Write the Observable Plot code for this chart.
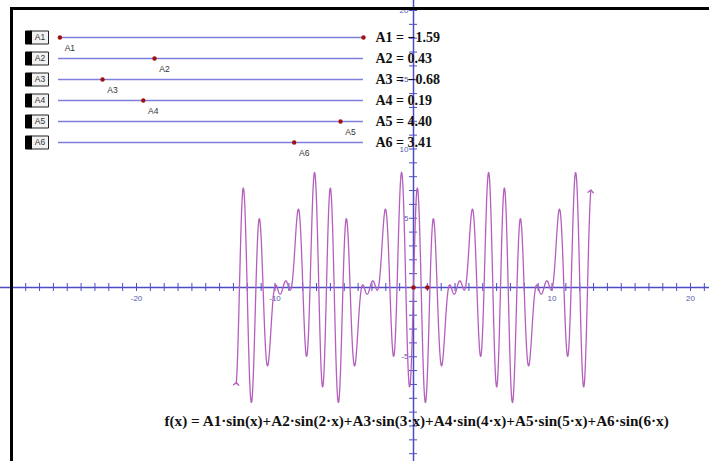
<!DOCTYPE html>
<html><head><meta charset="utf-8">
<script src="https://cdn.jsdelivr.net/npm/d3@7"></script>
<script src="https://cdn.jsdelivr.net/npm/@observablehq/plot@0.6"></script>
<style>
html,body{margin:0;padding:0;background:#fff;}
#wrap{position:relative;width:709px;height:461px;overflow:hidden;background:#fff;}
#wrap > svg{position:absolute;left:0;top:0;}
#frame{position:absolute;left:10px;top:7px;width:699px;height:454px;border-top:3px solid #000;border-left:3px solid #000;box-sizing:border-box;pointer-events:none;}
</style></head><body><div id="wrap"></div>
<script>
// ---- data ----
const sliderNames = ["A1", "A2", "A3", "A4", "A5", "A6"];
const sliderValues = [-1.59, 0.43, -0.68, 0.19, 4.40, 3.41];
const sliderRange = [-1.62, 4.89];
const harmonics = [1, 2, 3, 4, 5, 6];
const curveDomain = [-12.8, 12.8];
const xTickLabels = [-20, -10, 10, 20];
const yTickLabels = [-5, 5, 10, 15, 20];
const formula = "f(x) = A1·sin(x)+A2·sin(2·x)+A3·sin(3·x)+A4·sin(4·x)+A5·sin(5·x)+A6·sin(6·x)";

// ---- layout / style ----
const W = 709, H = 461, unit = 13.85, ox = 413, oy = 287;
const axisColor = "#4d4dc4", labelColor = "#5a5aa8", curveColor = "#b45fbe", pointColor = "#a01010";
const serif = "'Liberation Serif','Times New Roman',serif";
const sans = "'Liberation Sans',Arial,sans-serif";
const tl = 4 / unit;

const sliders = sliderNames.map((name, i) => ({name, value: sliderValues[i]}));
const f = x => d3.sum(harmonics, (k, i) => sliderValues[i] * Math.sin(k * x));
const curve = d3.range(curveDomain[0], curveDomain[1] + 1e-9, 0.01).map(x => ({x, y: f(x)}));
const xDom = [-ox / unit, (W - ox) / unit];
const yDom = [-(H - oy) / unit, oy / unit];
const xTicks = d3.range(Math.ceil(xDom[0]), Math.floor(xDom[1]) + 1);
const yTicks = d3.range(Math.ceil(yDom[0]), Math.floor(yDom[1]) + 1);

const main = Plot.plot({
  width: W, height: H, margin: 0,
  x: {domain: xDom, range: [0, W], axis: null},
  y: {domain: yDom, range: [H, 0], axis: null},
  style: {background: "transparent", overflow: "visible"},
  marks: [
    Plot.ruleY([0], {stroke: axisColor, strokeWidth: 1.5}),
    Plot.ruleX([0], {stroke: axisColor, strokeWidth: 1.5}),
    Plot.ruleX(xTicks, {x: d => d, y1: -tl, y2: tl, stroke: axisColor, strokeWidth: 1}),
    Plot.ruleY(yTicks, {y: d => d, x1: -tl, x2: tl, stroke: axisColor, strokeWidth: 1}),
    Plot.text(xTickLabels, {x: d => d, y: 0, dy: 11, text: d => String(d), fill: labelColor, fontSize: 8, fontFamily: sans}),
    Plot.text(yTickLabels, {x: 0, y: d => d, dx: -5, textAnchor: "end", text: d => String(d), fill: labelColor, fontSize: 8, fontFamily: sans}),
    Plot.line(curve, {x: "x", y: "y", stroke: curveColor, strokeWidth: 1.3, markerStart: "arrow", markerEnd: "arrow"}),
    Plot.dot([0, 1], {x: d => d, y: 0, r: 2.3, fill: pointColor}),
    Plot.text([formula], {frameAnchor: "bottom-left", dx: 164, dy: -36, textAnchor: "start", text: d => d,
      fontFamily: serif, fontWeight: "bold", fontSize: 15.2, fill: "#111"})
  ]
});

const leftBlock = {draw(ctx) { ctx.rect(-3, -6.5, 6, 13); }};
const box = {draw(ctx) { ctx.rect(-9, -6.5, 18, 13); }};
const fmt = d3.format(".2f");

const sl = Plot.plot({
  width: W, height: 170, margin: 0,
  x: {domain: sliderRange, range: [58, 363], axis: null},
  y: {type: "point", domain: sliderNames, range: [35, 143], padding: 0, axis: null},
  style: {background: "transparent", overflow: "visible"},
  marks: [
    Plot.ruleY(sliders, {y: "name", x1: () => sliderRange[0], x2: () => sliderRange[1], stroke: "#7f7fdc", strokeWidth: 1.3}),
    Plot.dot(sliders.slice(0, 1), {x: () => sliderRange[1], y: "name", r: 2.2, fill: pointColor}),
    Plot.dot(sliders, {x: "value", y: "name", r: 2.2, fill: pointColor}),
    Plot.text(sliders, {x: "value", y: "name", dx: 10, dy: 11, text: "name", fill: "#333", fontSize: 8.5, fontFamily: sans}),
    Plot.dot(sliders, {y: "name", frameAnchor: "left", dx: 39, symbol: box, fill: "#f2f2f2", stroke: "#222", strokeWidth: 1}),
    Plot.dot(sliders, {y: "name", frameAnchor: "left", dx: 28, symbol: leftBlock, fill: "#000", stroke: "#000", strokeWidth: 1}),
    Plot.text(sliders, {y: "name", frameAnchor: "left", dx: 39.5, textAnchor: "middle", text: "name", fill: "#333", fontSize: 8.5, fontFamily: sans}),
    Plot.text(sliders, {y: "name", frameAnchor: "left", dx: 375, textAnchor: "start", text: d => `${d.name} = ${fmt(d.value)}`,
      fill: "#111", fontSize: 14, fontWeight: "bold", fontFamily: serif})
  ]
});

const wrap = document.getElementById("wrap");
wrap.appendChild(main);
wrap.appendChild(sl);
const frame = document.createElement("div");
frame.id = "frame";
wrap.appendChild(frame);
</script>
</body></html>
